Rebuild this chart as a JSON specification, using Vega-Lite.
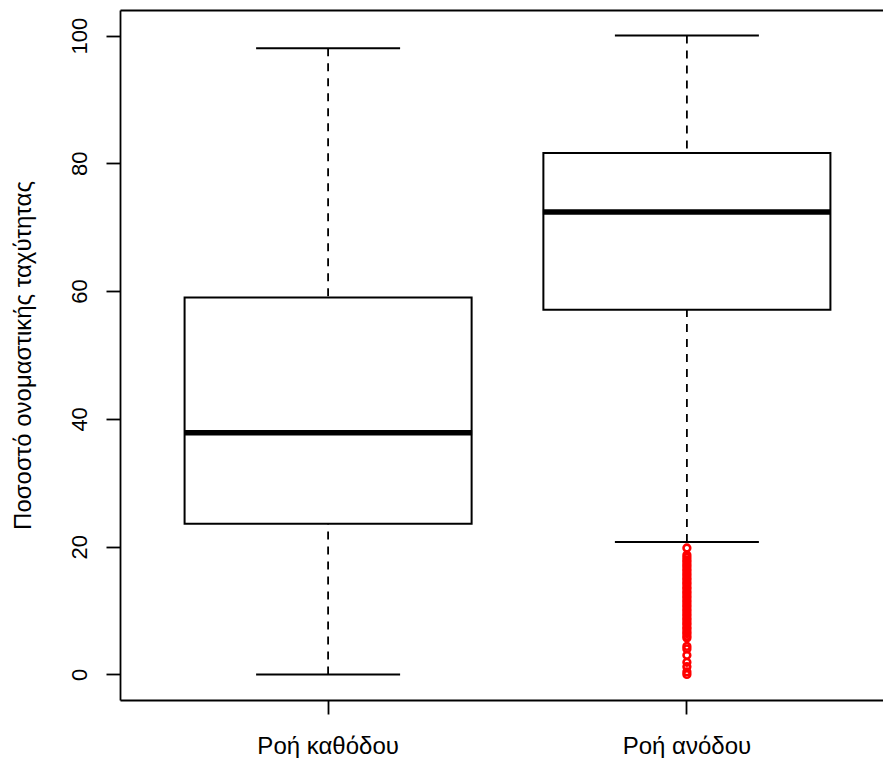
{
  "$schema": "https://vega.github.io/schema/vega-lite/v6.json",
  "width": 763,
  "height": 690,
  "autosize": "none",
  "padding": {"left": 120, "top": 10, "right": 0, "bottom": 58},
  "background": "white",
  "config": {
    "view": {"stroke": null},
    "font": "Liberation Sans",
    "axis": {
      "grid": false,
      "domainColor": "black",
      "domainWidth": 1.8,
      "tickColor": "black",
      "tickWidth": 1.8,
      "tickSize": 14,
      "labelColor": "black",
      "labelFontSize": 22,
      "labelFont": "Liberation Sans",
      "titleFont": "Liberation Sans",
      "titleColor": "black",
      "titleFontSize": 24,
      "titleFontWeight": "normal"
    }
  },
  "datasets": {
    "stats": [
      {"group": "Ροή καθόδου", "lower": 0, "q1": 23.6, "median": 37.85, "q3": 59.0, "upper": 98.0},
      {"group": "Ροή ανόδου", "lower": 20.75, "q1": 57.1, "median": 72.4, "q3": 81.6, "upper": 100.0}
    ],
    "outliers": [
      {"group": "Ροή ανόδου", "value": 0.0},
      {"group": "Ροή ανόδου", "value": 0.4},
      {"group": "Ροή ανόδου", "value": 1.2},
      {"group": "Ροή ανόδου", "value": 1.9},
      {"group": "Ροή ανόδου", "value": 3.0},
      {"group": "Ροή ανόδου", "value": 4.0},
      {"group": "Ροή ανόδου", "value": 4.4},
      {"group": "Ροή ανόδου", "value": 5.7},
      {"group": "Ροή ανόδου", "value": 6.0},
      {"group": "Ροή ανόδου", "value": 6.4},
      {"group": "Ροή ανόδου", "value": 6.7},
      {"group": "Ροή ανόδου", "value": 7.1},
      {"group": "Ροή ανόδου", "value": 7.4},
      {"group": "Ροή ανόδου", "value": 7.8},
      {"group": "Ροή ανόδου", "value": 8.1},
      {"group": "Ροή ανόδου", "value": 8.5},
      {"group": "Ροή ανόδου", "value": 8.8},
      {"group": "Ροή ανόδου", "value": 9.2},
      {"group": "Ροή ανόδου", "value": 9.5},
      {"group": "Ροή ανόδου", "value": 9.9},
      {"group": "Ροή ανόδου", "value": 10.2},
      {"group": "Ροή ανόδου", "value": 10.6},
      {"group": "Ροή ανόδου", "value": 10.9},
      {"group": "Ροή ανόδου", "value": 11.3},
      {"group": "Ροή ανόδου", "value": 11.6},
      {"group": "Ροή ανόδου", "value": 12.0},
      {"group": "Ροή ανόδου", "value": 12.3},
      {"group": "Ροή ανόδου", "value": 12.7},
      {"group": "Ροή ανόδου", "value": 13.0},
      {"group": "Ροή ανόδου", "value": 13.4},
      {"group": "Ροή ανόδου", "value": 13.7},
      {"group": "Ροή ανόδου", "value": 14.1},
      {"group": "Ροή ανόδου", "value": 14.4},
      {"group": "Ροή ανόδου", "value": 14.8},
      {"group": "Ροή ανόδου", "value": 15.1},
      {"group": "Ροή ανόδου", "value": 15.5},
      {"group": "Ροή ανόδου", "value": 15.8},
      {"group": "Ροή ανόδου", "value": 16.2},
      {"group": "Ροή ανόδου", "value": 16.5},
      {"group": "Ροή ανόδου", "value": 16.9},
      {"group": "Ροή ανόδου", "value": 17.2},
      {"group": "Ροή ανόδου", "value": 17.6},
      {"group": "Ροή ανόδου", "value": 17.9},
      {"group": "Ροή ανόδου", "value": 18.3},
      {"group": "Ροή ανόδου", "value": 18.7},
      {"group": "Ροή ανόδου", "value": 19.8}
    ]
  },
  "resolve": {"axis": {"x": "independent"}},
  "layer": [
    {
      "data": {"name": "stats"},
      "mark": {"type": "rule", "color": "black", "strokeWidth": 1.8, "strokeDash": [8, 7], "opacity": 1},
      "encoding": {
        "x": {
          "field": "group", "type": "nominal", "sort": null,
          "scale": {"type": "band", "paddingInner": 0, "paddingOuter": 0.08, "range": [0, 775]},
          "axis": {"orient": "bottom", "title": null, "labelAngle": 0, "labelPadding": 20, "labelBaseline": "top", "labelFontSize": 24, "domain": true, "ticks": true}
        },
        "y": {
          "field": "lower", "type": "quantitative",
          "scale": {"domain": [-4, 104], "nice": false, "zero": false},
          "title": "Ποσοστό ονομαστικής ταχύτητας",
          "axis": {
            "values": [0, 20, 40, 60, 80, 100],
            "labelAngle": 270, "labelAlign": "center", "labelBaseline": "alphabetic",
            "labelPadding": 20, "labelOverlap": false, "labelFlush": false,
            "titleAngle": 270, "titleX": -90, "titleY": 345,
            "titleAlign": "center", "titleBaseline": "alphabetic"
          }
        },
        "y2": {"field": "q1"}
      }
    },
    {
      "data": {"name": "stats"},
      "mark": {"type": "rule", "color": "black", "strokeWidth": 1.8, "strokeDash": [8, 7], "opacity": 1},
      "encoding": {
        "x": {
          "field": "group", "type": "nominal", "sort": null,
          "axis": {"orient": "top", "title": null, "labels": false, "ticks": false, "domain": true}
        },
        "y": {"field": "upper", "type": "quantitative", "title": "Ποσοστό ονομαστικής ταχύτητας"},
        "y2": {"field": "q3"}
      }
    },
    {
      "data": {"name": "stats"},
      "mark": {"type": "tick", "color": "black", "thickness": 2, "size": 144, "orient": "horizontal", "opacity": 1},
      "encoding": {
        "x": {"field": "group", "type": "nominal", "sort": null, "axis": null},
        "y": {"field": "lower", "type": "quantitative", "title": "Ποσοστό ονομαστικής ταχύτητας"}
      }
    },
    {
      "data": {"name": "stats"},
      "mark": {"type": "tick", "color": "black", "thickness": 2, "size": 144, "orient": "horizontal", "opacity": 1},
      "encoding": {
        "x": {"field": "group", "type": "nominal", "sort": null, "axis": null},
        "y": {"field": "upper", "type": "quantitative", "title": "Ποσοστό ονομαστικής ταχύτητας"}
      }
    },
    {
      "data": {"name": "stats"},
      "mark": {"type": "bar", "fill": "white", "stroke": "black", "strokeWidth": 2, "width": {"band": 0.8}, "opacity": 1},
      "encoding": {
        "x": {"field": "group", "type": "nominal", "sort": null, "axis": null},
        "y": {"field": "q1", "type": "quantitative", "title": "Ποσοστό ονομαστικής ταχύτητας"},
        "y2": {"field": "q3"}
      }
    },
    {
      "data": {"name": "stats"},
      "mark": {"type": "tick", "color": "black", "thickness": 5.5, "size": 288, "orient": "horizontal", "opacity": 1},
      "encoding": {
        "x": {"field": "group", "type": "nominal", "sort": null, "axis": null},
        "y": {"field": "median", "type": "quantitative", "title": "Ποσοστό ονομαστικής ταχύτητας"}
      }
    },
    {
      "data": {"name": "outliers"},
      "mark": {"type": "point", "shape": "circle", "filled": false, "color": "red", "strokeWidth": 2.6, "size": 45, "opacity": 1},
      "encoding": {
        "x": {"field": "group", "type": "nominal", "sort": null, "axis": null},
        "y": {"field": "value", "type": "quantitative", "title": "Ποσοστό ονομαστικής ταχύτητας"}
      }
    }
  ]
}
